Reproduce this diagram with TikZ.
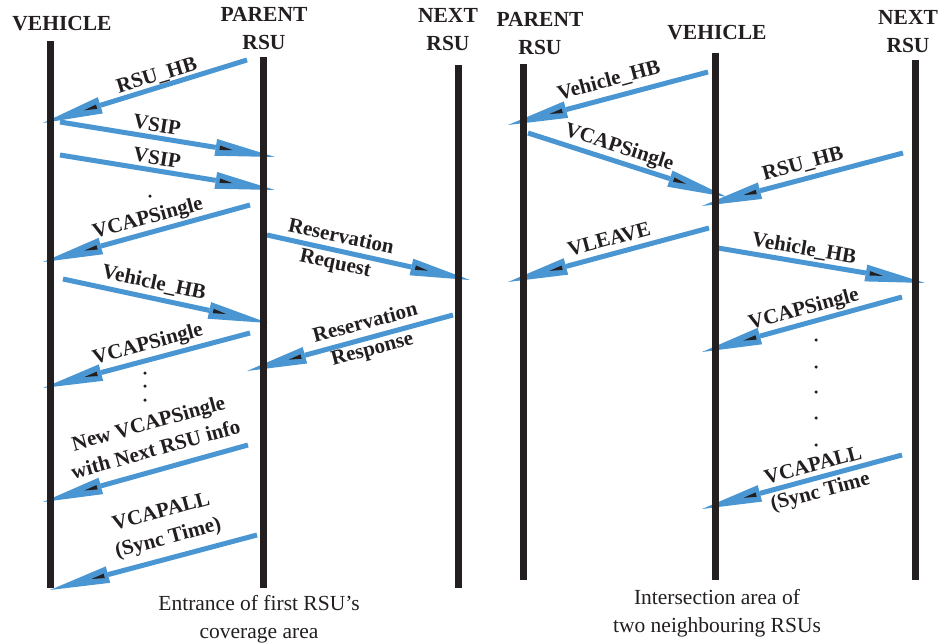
\documentclass[tikz,border=0pt]{standalone}
\usepackage{fontspec}
\setmainfont{Liberation Serif}
\usetikzlibrary{arrows.meta,decorations.markings}
\definecolor{msgblue}{RGB}{74,150,210}
\definecolor{ink}{RGB}{35,31,32}
\begin{document}
\begin{tikzpicture}[x=1pt,y=-1pt,
  lifeline/.style={draw=ink,line width=7pt},
  msg/.style={draw=msgblue,line width=5pt,
    -{Triangle[length=60pt,width=17pt,line width=0pt]},
    postaction={decorate,decoration={markings,
      mark=at position 1 with {\fill[ink] (-56pt,-2pt)--(-56pt,2.5pt)--(-43pt,0pt)--cycle;}}}},
  lbl/.style={font=\fontsize{21}{27}\selectfont\bfseries, text=ink, inner sep=0pt, align=center},
  titletext/.style={font=\fontsize{21.5}{28}\selectfont\bfseries, text=ink, inner sep=0pt, align=center},
  captext/.style={font=\fontsize{21.5}{28.5}\selectfont, text=ink, inner sep=0pt, align=center},
  dotmark/.style={circle,fill=ink,inner sep=0pt,minimum size=3.5pt}
]
\useasboundingbox (0,0) rectangle (938,643);

% ---------- titles ----------
\node[titletext] (tVL) at (62,24) {VEHICLE};
\node[titletext] (tPL) at (264,29) {PARENT\\RSU};
\node[titletext] (tNL) at (448,30) {NEXT\\RSU};
\node[titletext] (tPR) at (540,34) {PARENT\\RSU};
\node[titletext] (tVR) at (717,33) {VEHICLE};
\node[titletext] (tNR) at (908,32) {NEXT\\RSU};

% ---------- lifeline coordinates ----------
\coordinate (vLt) at (50,41);  \coordinate (vLb) at (50,588);
\coordinate (pLt) at (263,57); \coordinate (pLb) at (263,588);
\coordinate (nLt) at (458,65); \coordinate (nLb) at (458,588);
\coordinate (pRt) at (523,64); \coordinate (pRb) at (523,580);
\coordinate (vRt) at (715,53); \coordinate (vRb) at (715,580);
\coordinate (nRt) at (915,60); \coordinate (nRb) at (915,580);

% ---------- message endpoints (left) ----------
\coordinate (a1s) at (247,60);  \coordinate (a1e) at (43,123);
\coordinate (a2s) at (60,122);  \coordinate (a2e) at (275,157);
\coordinate (a3s) at (60,155);  \coordinate (a3e) at (275,190);
\coordinate (a4s) at (250,205); \coordinate (a4e) at (43,262);
\coordinate (a5s) at (63,279);  \coordinate (a5e) at (268,323);
\coordinate (a6s) at (250,333); \coordinate (a6e) at (43,388);
\coordinate (a7s) at (248,445); \coordinate (a7e) at (43,502);
\coordinate (a8s) at (257,535); \coordinate (a8e) at (50,590);
\coordinate (a9s) at (267,235); \coordinate (a9e) at (470,280);
\coordinate (a10s) at (453,315); \coordinate (a10e) at (247,371);
% ---------- message endpoints (right) ----------
\coordinate (b1s) at (708,72);  \coordinate (b1e) at (508,125);
\coordinate (b2s) at (528,133); \coordinate (b2e) at (727,197);
\coordinate (b3s) at (903,153); \coordinate (b3e) at (702,206);
\coordinate (b4s) at (709,228); \coordinate (b4e) at (508,282);
\coordinate (b5s) at (718,248); \coordinate (b5e) at (925,283);
\coordinate (b6s) at (902,297); \coordinate (b6e) at (702,352);
\coordinate (b7s) at (902,455); \coordinate (b7e) at (702,509);

% ---------- messages ----------
\foreach \m in {a1,a2,a3,a4,a5,a6,a7,a8,a9,a10,b1,b2,b3,b4,b5,b6,b7}
  \draw[msg] (\m s) -- (\m e);

% ---------- lifelines (over arrows) ----------
\foreach \l in {vL,pL,nL,pR,vR,nR}
  \draw[lifeline] (\l t) -- (\l b);

% ---------- labels (left) ----------
\node[lbl,rotate=17]  (l1) at (157,76)  {RSU\_HB};
\node[lbl,rotate=-9]  (l2) at (157,125) {VSIP};
\node[lbl,rotate=-9]  (l3) at (157,158) {VSIP};
\node[lbl,rotate=15]  (l4) at (148,219) {VCAPSingle};
\node[lbl,rotate=-12] (l5) at (154,283) {Vehicle\_HB};
\node[lbl,rotate=15]  (l6) at (148,345) {VCAPSingle};
\node[lbl,rotate=15.5] (l7) at (152,436) {New VCAPSingle\\with Next RSU info};
\node[lbl,rotate=15]  (l8) at (165,526) {VCAPALL\\(Sync Time)};
\node[lbl,rotate=-12] (l9) at (338,251) {Reservation\\Request};
\node[lbl,rotate=15]  (l10) at (369,337) {Reservation\\Response};
% ---------- labels (right) ----------
\node[lbl,rotate=15]  (r1) at (609,81)  {Vehicle\_HB};
\node[lbl,rotate=-18] (r2) at (619,148) {VCAPSingle};
\node[lbl,rotate=15]  (r3) at (803,164) {RSU\_HB};
\node[lbl,rotate=15]  (r4) at (609,239) {VLEAVE};
\node[lbl,rotate=-9.6] (r5) at (804,249) {Vehicle\_HB};
\node[lbl,rotate=15]  (r6) at (804,310) {VCAPSingle};
\node[lbl,rotate=15]  (r7) at (817,480) {VCAPALL\\(Sync Time};

% ---------- dots ----------
\node[dotmark] (d0) at (150,196) {};
\node[dotmark] (d1) at (145,373) {};
\node[dotmark] (d2) at (145,386) {};
\node[dotmark] (d3) at (145,400) {};
\node[dotmark] (e1) at (816,340) {};
\node[dotmark] (e2) at (816,367) {};
\node[dotmark] (e3) at (816,392) {};
\node[dotmark] (e4) at (816,418) {};
\node[dotmark] (e5) at (816,445) {};

% ---------- captions ----------
\node[captext] (c1) at (259,619) {Entrance of first RSU’s\\coverage area};
\node[captext] (c2) at (717,613) {Intersection area of\\two neighbouring RSUs};
\end{tikzpicture}
\end{document}
